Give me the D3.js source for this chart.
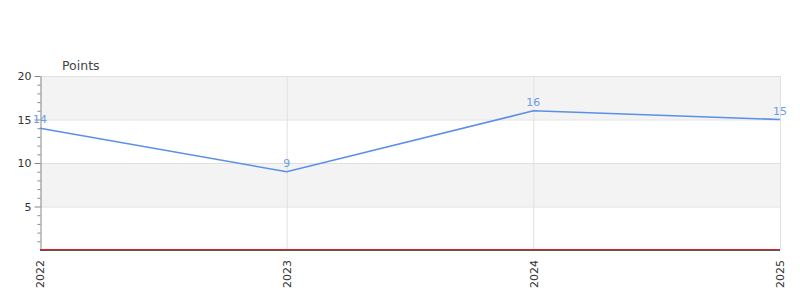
<!DOCTYPE html>
<html>
<head>
<meta charset="utf-8">
<script src="https://cdn.jsdelivr.net/npm/d3@7"></script>
<style>
  body { margin: 0; background: #fff; }
  text { font-family: "DejaVu Sans", sans-serif; }
</style>
</head>
<body>
<svg id="chart" width="800" height="300"></svg>
<script>
// data
var years = ['2022', '2023', '2024', '2025'];
var points = [14, 9, 16, 15];
var yTicks = [5, 10, 15, 20];
var bands = [[15, 20], [5, 10]];

var margin = {top: 76, right: 20, bottom: 50, left: 40};
var width = 800 - margin.left - margin.right;
var height = 300 - margin.top - margin.bottom;

var svg = d3.select('#chart');
var g = svg.append('g')
  .attr('transform', 'translate(' + margin.left + ',' + margin.top + ')');

var x = d3.scalePoint().domain(years).range([0, width]);
var y = d3.scaleLinear().domain([0, 20]).range([height, 0]);

// alternating bands
g.selectAll('.band')
  .data(bands)
  .enter().append('rect')
    .attr('x', 0)
    .attr('width', width)
    .attr('y', function(d) { return y(d[1]); })
    .attr('height', function(d) { return y(d[0]) - y(d[1]); })
    .attr('fill', '#f3f3f3');

// horizontal grid
g.selectAll('.hgrid')
  .data(yTicks)
  .enter().append('line')
    .attr('x1', 0).attr('x2', width)
    .attr('y1', function(d) { return y(d) + 0.5; })
    .attr('y2', function(d) { return y(d) + 0.5; })
    .attr('stroke', '#e0e0e0');

// vertical grid
g.selectAll('.vgrid')
  .data(years.slice(1))
  .enter().append('line')
    .attr('x1', function(d) { return x(d) + 0.5; })
    .attr('x2', function(d) { return x(d) + 0.5; })
    .attr('y1', 0).attr('y2', height)
    .attr('stroke', '#e0e0e0');

// y axis with minor ticks
var minor = d3.range(1, 21).filter(function(v) { return v % 5 !== 0; });
g.append('g')
  .attr('transform', 'translate(0.5,0)')
  .call(d3.axisLeft(y).tickValues(minor).tickSize(3).tickFormat(''))
  .call(function(a) {
    a.select('.domain').remove();
    a.selectAll('line').attr('stroke', '#888');
  });
g.append('g')
  .attr('transform', 'translate(0.5,0)')
  .call(d3.axisLeft(y).tickValues(yTicks).tickSize(6).tickPadding(3).tickSizeOuter(0))
  .call(function(a) {
    a.select('.domain').attr('stroke', '#888');
    a.selectAll('line').attr('stroke', '#888');
    a.selectAll('text').attr('fill', '#333').style('font-size', '11px');
  });

// baseline (red then dark)
g.append('line')
  .attr('x1', 0).attr('x2', width)
  .attr('y1', height - 0.5).attr('y2', height - 0.5)
  .attr('stroke', '#d22');
g.append('line')
  .attr('x1', 0).attr('x2', width)
  .attr('y1', height + 0.5).attr('y2', height + 0.5)
  .attr('stroke', '#555');

// x axis labels, rotated
g.append('g')
  .attr('transform', 'translate(0,' + height + ')')
  .call(d3.axisBottom(x).tickSize(0).tickPadding(0))
  .call(function(a) {
    a.select('.domain').remove();
    a.selectAll('text')
      .attr('fill', '#333')
      .style('font-size', '11px')
      .attr('text-anchor', 'end')
      .attr('dy', '0.35em')
      .attr('transform', 'translate(0,10) rotate(-90)')
      .attr('x', 0).attr('y', 0);
  });

// line
var line = d3.line()
  .x(function(d, i) { return x(years[i]); })
  .y(function(d) { return y(d); });

g.append('path')
  .datum(points)
  .attr('d', line)
  .attr('fill', 'none')
  .attr('stroke', '#5b8fe8')
  .attr('stroke-width', 1.6);

// value labels
g.selectAll('.val')
  .data(points)
  .enter().append('text')
    .attr('x', function(d, i) { return x(years[i]); })
    .attr('y', function(d) { return y(d) - 5; })
    .attr('text-anchor', 'middle')
    .attr('fill', '#6e9be6')
    .style('font-size', '11px')
    .text(function(d) { return d; });

// title
svg.append('text')
  .attr('x', 62).attr('y', 70)
  .attr('fill', '#444')
  .style('font-size', '12.5px')
  .text('Points');
</script>
</body>
</html>
